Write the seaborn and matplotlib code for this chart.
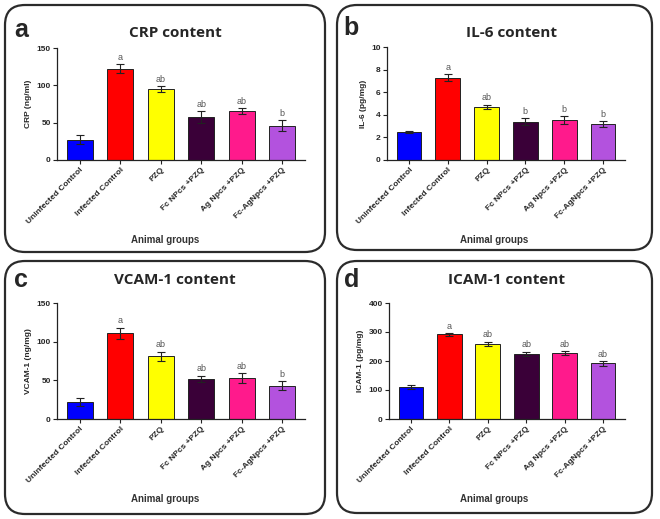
import numpy as np
import pandas as pd
import seaborn as sns
import matplotlib.pyplot as plt
from matplotlib.patches import FancyBboxPatch

# groups and values
groups = ['Uninfected Control', 'Infected Control', 'PZQ',
          'Fc NPcs +PZQ', 'Ag Npcs +PZQ', 'Fc-AgNpcs +PZQ']
colors = ['#0000FF', '#FF0000', '#FFFF00', '#3A0038', '#FF1A8C', '#B352DE']

crp = [27, 122, 95, 57, 65, 46]
crp_err = [6, 6, 4, 8, 4, 7]
crp_sig = ['', 'a', 'ab', 'ab', 'ab', 'b']

il6 = [2.5, 7.3, 4.7, 3.4, 3.5, 3.2]
il6_err = [0.1, 0.3, 0.2, 0.3, 0.35, 0.25]
il6_sig = ['', 'a', 'ab', 'b', 'b', 'b']

vcam = [22, 111, 81, 52, 53, 43]
vcam_err = [5, 7, 6, 4, 6, 6]
vcam_sig = ['', 'a', 'ab', 'ab', 'ab', 'b']

icam = [110, 292, 260, 225, 228, 192]
icam_err = [7, 5, 7, 7, 7, 8]
icam_sig = ['', 'a', 'ab', 'ab', 'ab', 'ab']

sns.set_style('ticks')
plt.rcParams['font.family'] = ['Liberation Sans', 'DejaVu Sans']

W, H = 660, 519
fig = plt.figure(figsize=(W / 100, H / 100), dpi=100)


def px_axes(left, top, right, bottom):
    return fig.add_axes([left / W, (H - bottom) / H, (right - left) / W, (bottom - top) / H])


def frame(left, top, right, bottom):
    # rounded panel border, drawn in inches so corners stay round
    box = FancyBboxPatch((left / 100, (H - bottom) / 100), (right - left) / 100, (bottom - top) / 100,
                         boxstyle='round,pad=0,rounding_size=0.2', transform=fig.dpi_scale_trans,
                         fill=False, edgecolor='#2b2b2b', linewidth=1.6)
    fig.patches.append(box)


panels = [
    dict(box=(5, 5, 325, 252), ax=(57, 48, 305, 160), letter='a', lpos=(14, 30),
         title='CRP content', tpos=(175, 33), ylabel='CRP (ng/ml)', vals=crp, err=crp_err,
         sig=crp_sig, yt=[0, 50, 100, 150], xl=240),
    dict(box=(337, 5, 652, 250), ax=(387, 47, 625, 160), letter='b', lpos=(343, 28),
         title='IL-6 content', tpos=(512, 33), ylabel='IL-6 (pg/mg)', vals=il6, err=il6_err,
         sig=il6_sig, yt=[0, 2, 4, 6, 8, 10], xl=240),
    dict(box=(5, 261, 325, 514), ax=(57, 303, 305, 419), letter='c', lpos=(14, 280),
         title='VCAM-1 content', tpos=(175, 280), ylabel='VCAM-1 (ng/mg)', vals=vcam, err=vcam_err,
         sig=vcam_sig, yt=[0, 50, 100, 150], xl=499),
    dict(box=(337, 261, 652, 513), ax=(389, 303, 625, 419), letter='d', lpos=(344, 280),
         title='ICAM-1 content', tpos=(507, 280), ylabel='ICAM-1 (pg/mg)', vals=icam, err=icam_err,
         sig=icam_sig, yt=[0, 100, 200, 300, 400], xl=499),
]

for p in panels:
    frame(*p['box'])
    ax = px_axes(*p['ax'])
    df = pd.DataFrame({'group': groups, 'value': p['vals']})
    sns.barplot(data=df, x='group', y='value', hue='group', palette=colors, legend=False,
                saturation=1, edgecolor='#222222', linewidth=0.7, width=0.64, ax=ax)
    ax.errorbar(np.arange(len(groups)), p['vals'], yerr=p['err'], fmt='none',
                ecolor='#222222', elinewidth=0.8, capsize=3, capthick=0.8)
    top = p['yt'][-1]
    for i, s in enumerate(p['sig']):
        if s:
            ax.text(i, p['vals'][i] + p['err'][i] + top * 0.02, s, ha='center', va='bottom',
                    fontsize=6.5, color='#555555')
    ax.set_ylim(0, top)
    ax.set_yticks(p['yt'])
    ax.set_xlim(-0.57, 5.57)
    sns.despine(ax=ax)
    for sp in ['left', 'bottom']:
        ax.spines[sp].set_linewidth(0.9)
        ax.spines[sp].set_color('#222222')
    ax.tick_params(axis='both', length=3, width=0.8, labelsize=6, pad=1.5, color='#222222')
    ax.set_xticks(range(len(groups)))
    ax.set_xticklabels(groups, rotation=45, ha='right', rotation_mode='anchor', fontweight='bold')
    for t in ax.get_yticklabels():
        t.set_fontweight('bold')
    ax.set_xlabel('')
    ax.set_ylabel(p['ylabel'], fontsize=6, fontweight='bold', labelpad=3)

    fig.text(p['lpos'][0] / W, 1 - p['lpos'][1] / H, p['letter'], fontsize=18, fontweight='bold',
             va='center', ha='left')
    fig.text(p['tpos'][0] / W, 1 - p['tpos'][1] / H, p['title'], fontsize=11, fontweight='bold',
             va='center', ha='center', family=['Open Sans', 'DejaVu Sans'])
    cx = (p['box'][0] + p['box'][2]) / 2
    fig.text(cx / W, 1 - p['xl'] / H, 'Animal groups', fontsize=7, fontweight='bold',
             va='center', ha='center', color='#333333')

fig.savefig('out.png', dpi=100)
